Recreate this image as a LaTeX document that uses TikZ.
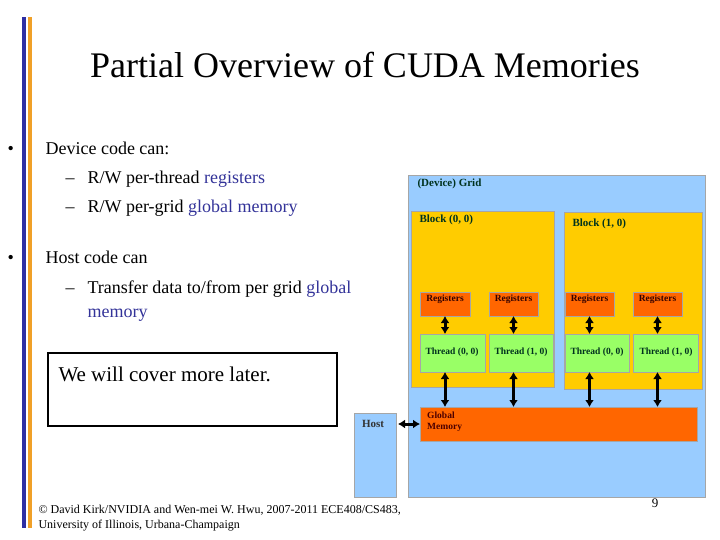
\documentclass[tikz,border=0pt]{standalone}
\usepackage{fontspec}
\setmainfont{Liberation Serif}
\usetikzlibrary{arrows.meta}
\definecolor{gridblue}{RGB}{153,204,255}
\definecolor{blockor}{RGB}{255,204,0}
\definecolor{regor}{RGB}{255,102,0}
\definecolor{thgreen}{RGB}{153,255,102}
\definecolor{txtblue}{RGB}{51,51,153}
\definecolor{bargold}{RGB}{240,160,40}
\definecolor{darkgr}{RGB}{0,50,30}
\begin{document}
\begin{tikzpicture}[x=1pt,y=-1pt,
  box/.style={draw=gray!70,line width=0.8pt},
  lbl/.style={font=\fontsize{11}{12}\selectfont\bfseries,text=darkgr},
  sm/.style={font=\fontsize{9.5}{11}\selectfont\bfseries},
  dbl/.style={{Latex[length=7pt,width=9pt]}-{Latex[length=7pt,width=9pt]},line width=3pt},
  body/.style={font=\fontsize{18}{21}\selectfont,anchor=base west}]
\useasboundingbox (0,0) rectangle (720,540);
\fill[white] (0,0) rectangle (720,540);
\fill[txtblue!90!blue] (22,17) rectangle (26,528);
\fill[bargold] (28,17) rectangle (32,528);
\node (title) at (365,65) {\fontsize{36}{40}\selectfont Partial Overview of CUDA Memories};
\node[body] (b1) at (4,155) {•};
\node[body] (t1) at (42,155) {Device code can:};
\node[body] (d1) at (62,184) {–};
\node[body] (t2) at (84,184) {R/W per-thread \textcolor{txtblue}{registers}};
\node[body] (d2) at (62,213) {–};
\node[body] (t3) at (84,213) {R/W per-grid \textcolor{txtblue}{global memory}};
\node[body] (b2) at (4,263) {•};
\node[body] (t4) at (42,263) {Host code can};
\node[body] (d3) at (62,293) {–};
\node[body] (t5) at (84,293) {Transfer data to/from per grid \textcolor{txtblue}{global}};
\node[body] (t6) at (84,317) {\textcolor{txtblue}{memory}};
\draw[line width=2.5pt] (48,353) rectangle (337,426);
\node[body,font=\fontsize{21}{24}\selectfont] (cover) at (55,381) {We will cover more later.};
% diagram
\draw[box,fill=gridblue] (408,175) rectangle (705,497);
\node[lbl,anchor=west] (gl) at (414,184) {(Device) Grid};
\draw[box,fill=blockor] (411,211) rectangle (554,387);
\node[lbl,anchor=west] (bl0) at (416,220) {Block (0, 0)};
\draw[box,fill=blockor] (564,212) rectangle (702,389);
\node[lbl,anchor=west] (bl1) at (569,224) {Block (1, 0)};
\foreach \n/\a/\b/\c in {1/420/470/485,2/489/538/553,3/565/614/629,4/633/682/698}{
  \draw[box,fill=regor] (\a,292) rectangle (\b,316);
  \node[sm,text=black!80!red] (r\n) at ({(\a+\b)/2},299) {Registers};
  \coordinate (rb\n) at ({(\a+\b)/2},316);
  \draw[box,fill=thgreen] (\a,334) rectangle (\c,372);
  \coordinate (tt\n) at ({(\a+\b)/2},334);
  \coordinate (tb\n) at ({(\a+\b)/2},372);
  \coordinate (g\n) at ({(\a+\b)/2},407);
  \draw[dbl] (rb\n) -- (tt\n);
}
\node[sm,text=darkgr] (th1) at (452,352) {Thread (0, 0)};
\node[sm,text=darkgr] (th2) at (521,352) {Thread (1, 0)};
\node[sm,text=darkgr] (th3) at (597,352) {Thread (0, 0)};
\node[sm,text=darkgr] (th4) at (666,352) {Thread (1, 0)};
\draw[box,fill=regor] (420,407) rectangle (697,441);
\node[sm,text=black!70!red,align=left,anchor=north west,inner sep=0pt] (gm) at (427,412) {Global\\Memory};
\foreach \n in {1,2,3,4}{\draw[dbl] (tb\n) -- (g\n);}
\draw[box,fill=gridblue] (354,413) rectangle (396,497);
\node[lbl,text=black!80] (host) at (373,424) {Host};
\coordinate (hr) at (398,424);
\coordinate (gml) at (420,424);
\draw[dbl] (hr) -- (gml);
\node[anchor=base west,font=\fontsize{12}{14}\selectfont] (foot) at (35,513) {© David Kirk/NVIDIA and Wen-mei W. Hwu, 2007-2011 ECE408/CS483,};
\node[anchor=base west,font=\fontsize{12}{14}\selectfont] (foot2) at (35,528) {University of Illinois, Urbana-Champaign};
\node[font=\fontsize{13}{15}\selectfont] (pg) at (655,503) {9};
\end{tikzpicture}
\end{document}
